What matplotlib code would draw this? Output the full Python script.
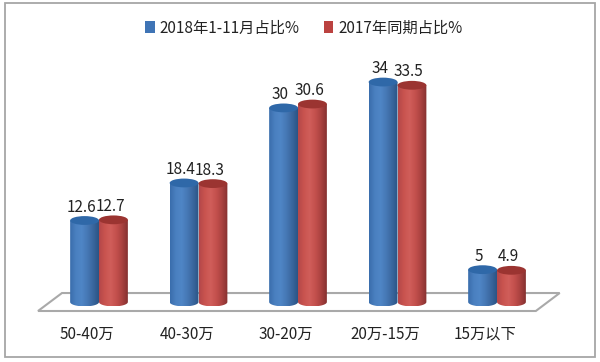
import numpy as np
import matplotlib
matplotlib.use('Agg')
import matplotlib.pyplot as plt
from matplotlib.colors import LinearSegmentedColormap
from matplotlib.patches import Ellipse, Patch, PathPatch, Polygon, Rectangle
from matplotlib.path import Path

plt.rcParams['font.family'] = ['Noto Sans CJK SC', 'DejaVu Sans']

# Data
categories = ['50-40万', '40-30万', '30-20万', '20万-15万', '15万以下']
share_2018 = [12.6, 18.4, 30, 34, 5]
share_2017 = [12.7, 18.3, 30.6, 33.5, 4.9]
series_names = ['2018年1-11月占比%', '2017年同期占比%']

blue_side = ['#3a6dac', '#4a80c0', '#4f86c6', '#4678b5', '#3a679f', '#2b5485']
red_side = ['#b4474a', '#c9544f', '#d05e5a', '#c4504d', '#aa4240', '#863130']
blue_top = '#2f68a8'
red_top = '#9b3431'

bar_w = 0.29
cap_h = 0.68   # half height of the cylinder ellipse, in value units

fig = plt.figure(figsize=(6, 3.62), dpi=100, facecolor='white')
ax = fig.add_axes([0, 40 / 362, 1, 322 / 362])
xlim = (-0.995, 5.035)
ylim = (-3.09, 46.68)


def cylinder(x, v, colors, top_color):
    cmap = LinearSegmentedColormap.from_list('side', colors)
    left, right = x - bar_w / 2, x + bar_w / 2
    t = np.linspace(np.pi, 2 * np.pi, 40)
    xs = x + bar_w / 2 * np.cos(t)
    ys = cap_h * np.sin(t)
    pts = np.vstack([np.column_stack([xs, ys]), [right, v], [left, v], [xs[0], ys[0]]])
    clip = PathPatch(Path(pts), transform=ax.transData, fc='none', ec='none')
    ax.add_patch(clip)
    img = ax.imshow(np.linspace(0, 1, 64).reshape(1, -1), cmap=cmap, aspect='auto',
                    extent=(left, right, -cap_h, v), interpolation='bilinear', zorder=3)
    img.set_clip_path(clip)
    ax.add_patch(Ellipse((x, v), bar_w, cap_h * 2, fc=top_color, ec='none', zorder=4))


# Floor of the 3D plot
floor = Polygon([(-0.613, -1.39), (-0.372, 1.39), (4.63, 1.39), (4.39, -1.39)], closed=True,
                fc='white', ec='#a9a9a9', lw=1.5, zorder=1)
ax.add_patch(floor)

x_pos = np.arange(len(categories))
for i in x_pos:
    cylinder(i - bar_w / 2, share_2018[i], blue_side, blue_top)
    cylinder(i + bar_w / 2, share_2017[i], red_side, red_top)
    ax.annotate(str(share_2018[i]), (i - bar_w / 2, share_2018[i]), xytext=(-2.5, 3.5),
                textcoords='offset points', ha='center', va='bottom', fontsize=11, color='#222222')
    ax.annotate(str(share_2017[i]), (i + bar_w / 2, share_2017[i]), xytext=(-2.5, 3.5),
                textcoords='offset points', ha='center', va='bottom', fontsize=11, color='#222222')

ax.set_xlim(*xlim)
ax.set_ylim(*ylim)
ax.set_xticks(x_pos - 0.12, categories)
ax.set_yticks([])
ax.tick_params(axis='x', length=0, pad=2.7, labelsize=11, labelcolor='#222222')
for s in ax.spines.values():
    s.set_visible(False)
ax.patch.set_alpha(0)

handles = [Patch(fc='#3f74b5', label=series_names[0]), Patch(fc='#bb4240', label=series_names[1])]
ax.legend(handles=handles, ncol=2, frameon=False, fontsize=11, loc='upper center',
          bbox_to_anchor=(0.507, 0.982), handlelength=0.6, handleheight=0.8, handletextpad=0.35,
          columnspacing=1.6, labelcolor='#222222')

# Picture frame
fig.add_artist(Rectangle((5 / 600, 5 / 362), 590 / 600, 354 / 362, transform=fig.transFigure,
                         fc='none', ec='#a6a6a6', lw=1.3))

plt.savefig('out.png', dpi=100)
